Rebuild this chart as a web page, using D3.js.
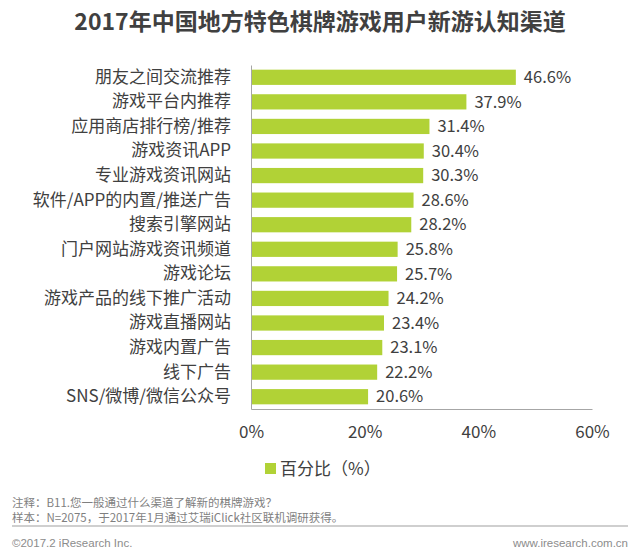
<!DOCTYPE html>
<html>
<head>
<meta charset="utf-8">
<script src="https://cdn.jsdelivr.net/npm/d3@7"></script>
<style>
  body { margin: 0; background: #fff; }
  svg { display: block; font-family: "Noto Sans CJK SC", "Noto Sans", sans-serif; }
</style>
</head>
<body>
<main></main>
<script>
const categories = [
  '朋友之间交流推荐', '游戏平台内推荐', '应用商店排行榜/推荐', '游戏资讯APP',
  '专业游戏资讯网站', '软件/APP的内置/推送广告', '搜索引擎网站', '门户网站游戏资讯频道',
  '游戏论坛', '游戏产品的线下推广活动', '游戏直播网站', '游戏内置广告',
  '线下广告', 'SNS/微博/微信公众号'
];
const values = [46.6, 37.9, 31.4, 30.4, 30.3, 28.6, 28.2, 25.8, 25.7, 24.2, 23.4, 23.1, 22.2, 20.6];
const ticks = [0, 20, 40, 60];
const seriesName = '百分比（%）';
const title = '2017年中国地方特色棋牌游戏用户新游认知渠道';
const notes = [
  '注释：B11.您一般通过什么渠道了解新的棋牌游戏？',
  '样本：N=2075，于2017年1月通过艾瑞iClick社区联机调研获得。'
];

const width = 640;
const height = 556;
const barColor = '#b1d236';
const textColor = '#404040';
const axisColor = '#a6a6a6';

const xScale = d3.scaleLinear()
  .domain([0, 60])
  .range([251, 592]);

const yScale = d3.scaleBand()
  .domain(categories)
  .range([65, 409])
  .paddingInner(0.38)
  .paddingOuter(0.19);

const svg = d3.select('main')
  .append('svg')
  .attr('width', width)
  .attr('height', height);

// Title
svg.append('text')
  .text(title)
  .attr('x', width / 2)
  .attr('y', 30)
  .attr('text-anchor', 'middle')
  .style('font-size', '23px')
  .style('font-weight', 'bold')
  .style('fill', textColor);

// Bars
svg.selectAll('.bar')
  .data(values)
  .enter()
  .append('rect')
  .attr('class', 'bar')
  .attr('x', xScale(0))
  .attr('y', (d, i) => yScale(categories[i]))
  .attr('width', d => xScale(d) - xScale(0))
  .attr('height', yScale.bandwidth())
  .style('fill', barColor);

// Value labels
svg.selectAll('.value')
  .data(values)
  .enter()
  .append('text')
  .attr('class', 'value')
  .text(d => d.toFixed(1) + '%')
  .attr('x', d => xScale(d) + 8)
  .attr('y', (d, i) => yScale(categories[i]) + yScale.bandwidth() / 2)
  .attr('dy', '0.35em')
  .style('font-size', '16.5px')
  .style('fill', textColor);

// y-axis
const yAxis = svg.append('g')
  .attr('transform', `translate(${xScale(0)}, 0)`)
  .call(d3.axisLeft(yScale).tickSize(0).tickPadding(20).tickSizeOuter(0));
yAxis.select('.domain').attr('stroke', axisColor);
yAxis.selectAll('text')
  .style('font-size', '17px')
  .style('font-family', '"Noto Sans CJK SC", sans-serif')
  .style('fill', textColor);

// x-axis
const xAxis = svg.append('g')
  .attr('transform', `translate(0, 409)`)
  .call(d3.axisBottom(xScale).tickValues(ticks).tickFormat(d => d + '%').tickSize(0).tickPadding(17).tickSizeOuter(0));
xAxis.select('.domain').attr('stroke', axisColor);
xAxis.selectAll('text')
  .style('font-size', '17px')
  .style('font-family', '"Noto Sans CJK SC", sans-serif')
  .style('fill', textColor);

// Legend
svg.append('rect')
  .attr('x', 265)
  .attr('y', 463)
  .attr('width', 11)
  .attr('height', 11)
  .style('fill', barColor);
svg.append('text')
  .text(seriesName)
  .attr('x', 280)
  .attr('y', 469)
  .attr('dy', '0.35em')
  .style('font-size', '17px')
  .style('fill', textColor);

// Notes
svg.selectAll('.note')
  .data(notes)
  .enter()
  .append('text')
  .attr('class', 'note')
  .text(d => d)
  .attr('x', 12)
  .attr('y', (d, i) => 503 + i * 15)
  .attr('dy', '0.35em')
  .style('font-size', '11.5px')
  .style('fill', '#7f7f7f');

svg.append('line')
  .attr('x1', 12)
  .attr('x2', 628)
  .attr('y1', 526)
  .attr('y2', 526)
  .attr('stroke', '#bfbfbf')
  .attr('stroke-width', 1.5);

// Footer
svg.append('text')
  .text('©2017.2 iResearch Inc.')
  .attr('x', 12)
  .attr('y', 543)
  .attr('dy', '0.35em')
  .style('font-family', '"Liberation Sans", Arial, sans-serif')
  .style('font-size', '11.5px')
  .style('fill', '#8c8c8c');
svg.append('text')
  .text('www.iresearch.com.cn')
  .attr('x', 628)
  .attr('y', 543)
  .attr('dy', '0.35em')
  .attr('text-anchor', 'end')
  .style('font-family', '"Liberation Sans", Arial, sans-serif')
  .style('font-size', '11.5px')
  .style('fill', '#8c8c8c');
</script>
</body>
</html>
